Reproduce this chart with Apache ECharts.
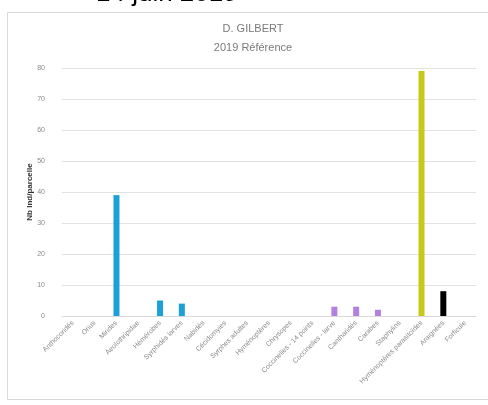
<!DOCTYPE html>
<html><head><meta charset="utf-8">
<script src="https://cdn.jsdelivr.net/npm/echarts@6/dist/echarts.min.js"></script>
<style>html,body{margin:0;padding:0;background:#fff;overflow:hidden}#c{width:488px;height:405px}</style>
</head><body><div id="c"></div>
<script>
const categories = ["Anthocoridés","Orius","Mirides","Aeolothripidae","Hémérobes","Syrphidés larves","Nabidés","Cécidomyies","Syrphes adultes","Hyménoptères","Chrysopes","Coccinelles - 14 points","Coccinelles - larve","Cantharidés","Carabes","Staphylins","Hyménoptères parasitoïdes","Araignées","Forficule"];
const values = [0,0,39,0,5,4,0,0,0,0,0,0,3,3,2,0,79,8,0];
const barColors = ["#1ba1d8","#1ba1d8","#1ba1d8","#1ba1d8","#1ba1d8","#1ba1d8","#1ba1d8","#1ba1d8","#1ba1d8","#1ba1d8","#b57fe0","#b57fe0","#b57fe0","#b57fe0","#b57fe0","#b57fe0","#c6c91a","#000000","#000000"];
const yTicks = [0,10,20,30,40,50,60,70,80];
const chart = echarts.init(document.getElementById('c'));
chart.setOption({
  animation:false,
  graphic:[
    {type:'rect',shape:{x:7.5,y:12.5,width:490,height:387},style:{fill:'#fff',stroke:'#d9d9d9',lineWidth:1},z:-10},
    {type:'text',left:96,top:-19,style:{text:'14 juin 2019',font:'26px "Liberation Sans", Arial',fill:'#000'}}
  ],
  title:{text:'D. GILBERT\n2019 Référence',left:248,textAlign:'center',top:14,
    textStyle:{fontSize:11,fontWeight:'normal',color:'#7a7a7a',lineHeight:19,fontFamily:'"Liberation Sans", Arial'}},
  grid:{left:62,right:12,top:68,bottom:89},
  xAxis:{type:'category',data:categories,
    axisLine:{lineStyle:{color:'#d9d9d9'}},axisTick:{show:false},
    axisLabel:{rotate:45,fontSize:7,color:'#8a8a8a',interval:0,margin:6}},
  yAxis:{type:'value',min:0,max:80,interval:10,
    name:'Nb Ind/parcelle',nameLocation:'middle',nameGap:28,nameMoveOverlap:false,
    nameTextStyle:{fontSize:8,fontWeight:'bold',color:'#333'},
    axisLabel:{fontSize:7,color:'#8a8a8a',margin:17,formatter:v=>yTicks.includes(v)?String(v):''},
    splitLine:{lineStyle:{color:'#e3e3e3'}},axisLine:{show:false},axisTick:{show:false}},
  series:[{type:'bar',barWidth:6,
    data:values.map((v,i)=>({value:v,itemStyle:{color:barColors[i]}}))}]
});
</script></body></html>
